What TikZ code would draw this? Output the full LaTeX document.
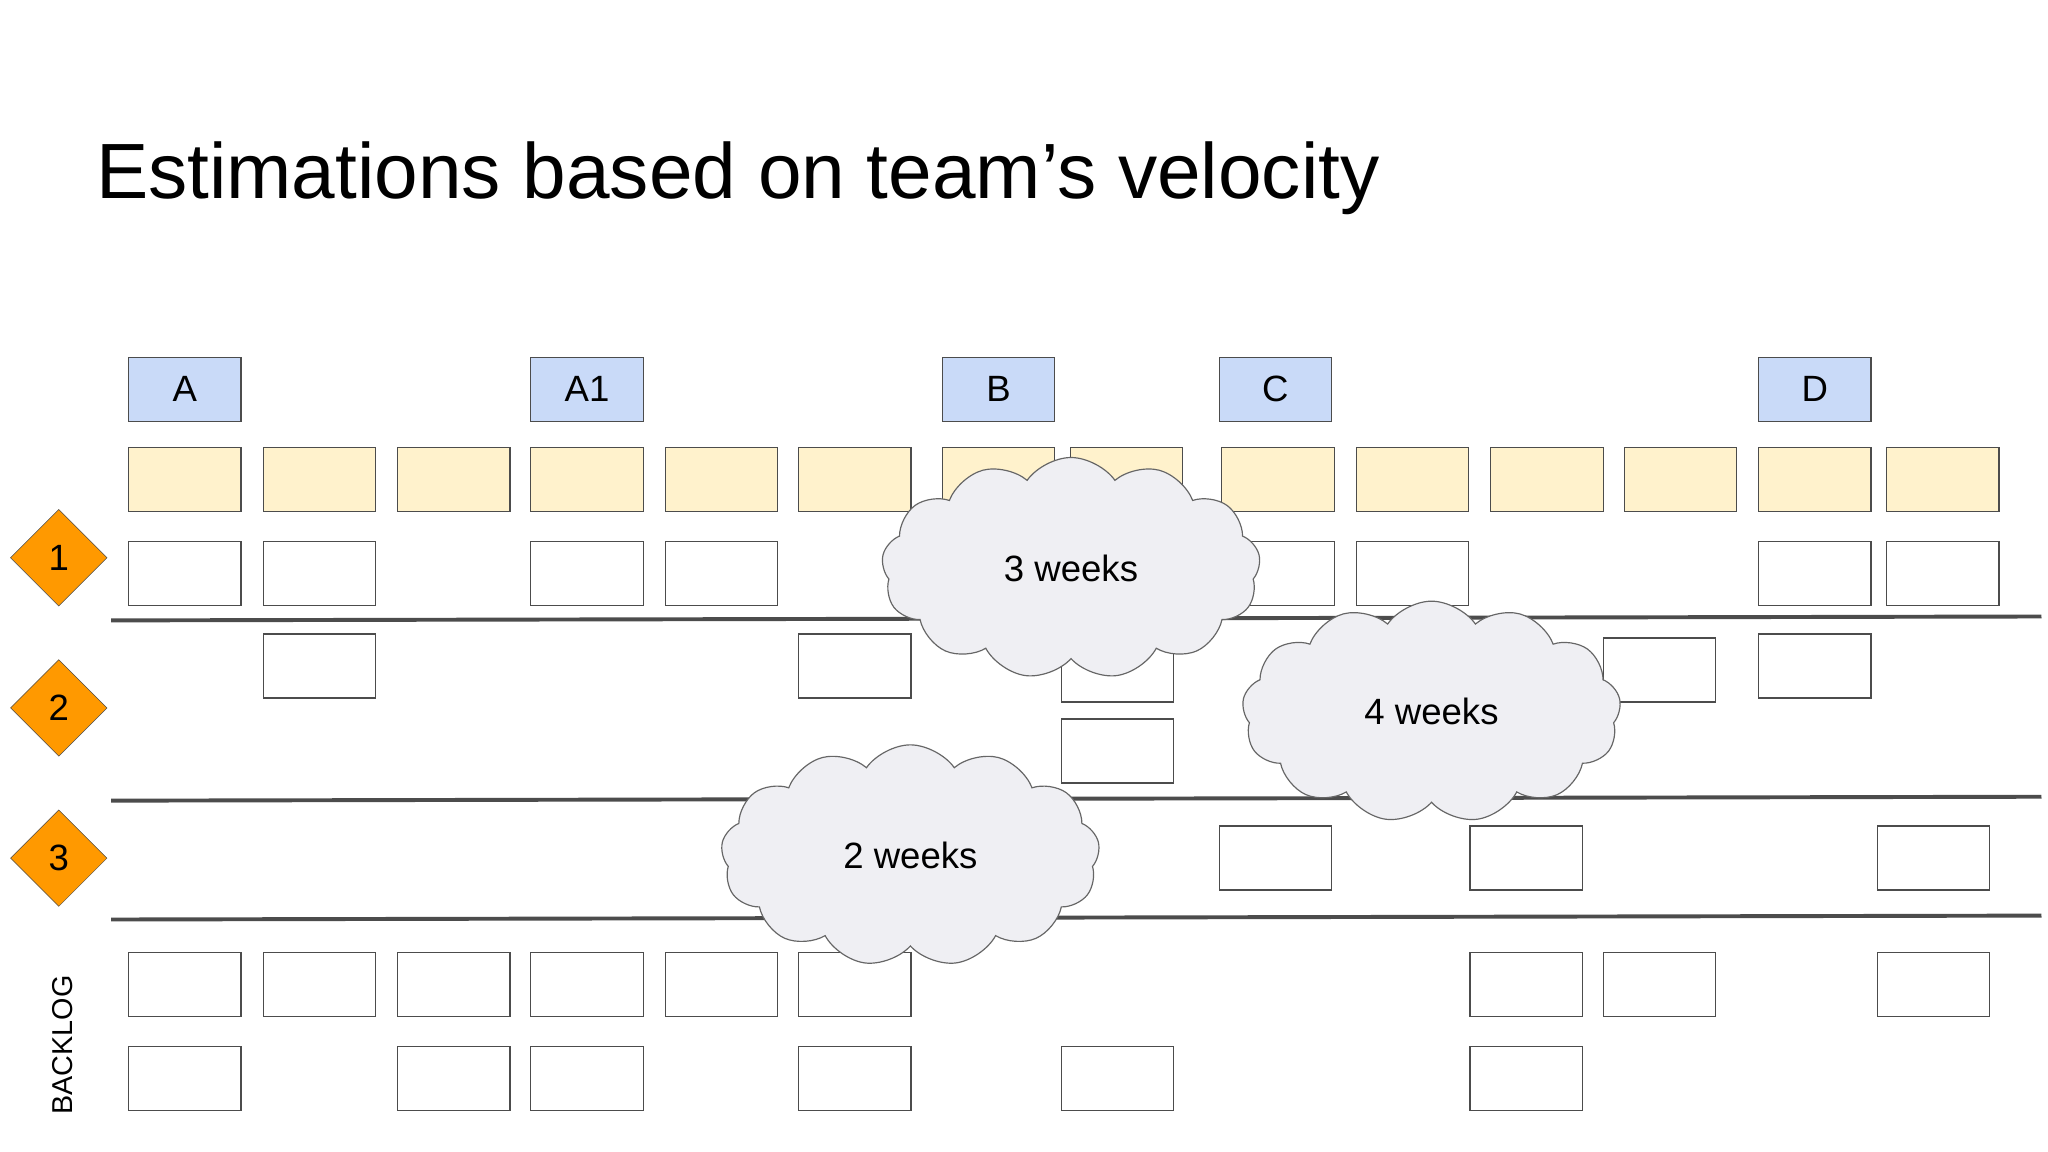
\documentclass[tikz,border=0pt]{standalone}
\usepackage{fontspec}
\setmainfont{Liberation Sans}
\usetikzlibrary{shapes.geometric,shapes.symbols}
\definecolor{hdr}{HTML}{C9DAF8}
\definecolor{yel}{HTML}{FFF2CC}
\definecolor{org}{HTML}{FF9900}
\definecolor{cl}{HTML}{EFEFF3}
\begin{document}
\begin{tikzpicture}[x=1pt,y=-1pt,
 box/.style={draw=black!70,line width=0.9pt,minimum width=86pt,minimum height=49pt,inner sep=0pt,anchor=north west,font=\fontsize{28}{30}\selectfont},
 hb/.style={box,fill=hdr},
 yb/.style={box,fill=yel},
 wb/.style={box,fill=white},
 dia/.style={diamond,draw=black!70,fill=org,minimum width=74pt,minimum height=74pt,inner sep=0pt,font=\fontsize{28}{30}\selectfont},
 sep/.style={draw=black!70,line width=3pt},
 cld/.style={cloud,cloud puffs=13,cloud puff arc=110,draw=black!60,line width=0.9pt,fill=cl,minimum width=290pt,minimum height=135pt,font=\fontsize{28}{30}\selectfont}]
\useasboundingbox (0,0) rectangle (1568,882);
\fill[white] (0,0) rectangle (1568,882);
\node[anchor=base west,font=\fontsize{60}{66}\selectfont] (title) at (70,152) {Estimations based on team’s velocity};
% headers
\node[hb] (hA) at (98,273) {A};
\node[hb] (hA1) at (406,273) {A1};
\node[hb] (hB) at (721,273) {B};
\node[hb] (hC) at (933,273) {C};
\node[hb] (hD) at (1346,273) {D};
% yellow row
\foreach \x [count=\i] in {98,201,304,406,509,611,721,819,935,1038,1141,1243,1346,1444}
  \node[yb] (y\i) at (\x,342) {};
% row 1
\foreach \x [count=\i] in {98,201,406,509,935,1038,1346,1444}
  \node[wb] (r1\i) at (\x,414) {};
% row 2
\foreach \x/\y [count=\i] in {201/485,611/485,812/488,812/550,1227/488,1346/485}
  \node[wb] (r2\i) at (\x,\y) {};
% row 3
\foreach \x [count=\i] in {933,1125,1437}
  \node[wb] (r3\i) at (\x,632) {};
% backlog
\foreach \x [count=\i] in {98,201,304,406,509,611,1125,1227,1437}
  \node[wb] (ba\i) at (\x,729) {};
\foreach \x [count=\i] in {98,304,406,611,812,1125}
  \node[wb] (bb\i) at (\x,801) {};
% separators
\coordinate (l1a) at (85,475); \coordinate (l1b) at (1563,472);
\coordinate (l2a) at (85,613); \coordinate (l2b) at (1563,610);
\coordinate (l3a) at (85,704); \coordinate (l3b) at (1563,701);
\draw[sep] (l1a) -- (l1b);
\draw[sep] (l2a) -- (l2b);
\draw[sep] (l3a) -- (l3b);
% diamonds
\node[dia] (d1) at (45,427) {1};
\node[dia] (d2) at (45,542) {2};
\node[dia] (d3) at (45,657) {3};
\node[rotate=90,anchor=center,font=\fontsize{22}{24}\selectfont] (bl) at (48,800) {BACKLOG};
% clouds
\node[cld] (c3) at (820,435) {3 weeks};
\node[cld] (c4) at (1096,545) {4 weeks};
\node[cld] (c2) at (697,655) {2 weeks};
\end{tikzpicture}
\end{document}
